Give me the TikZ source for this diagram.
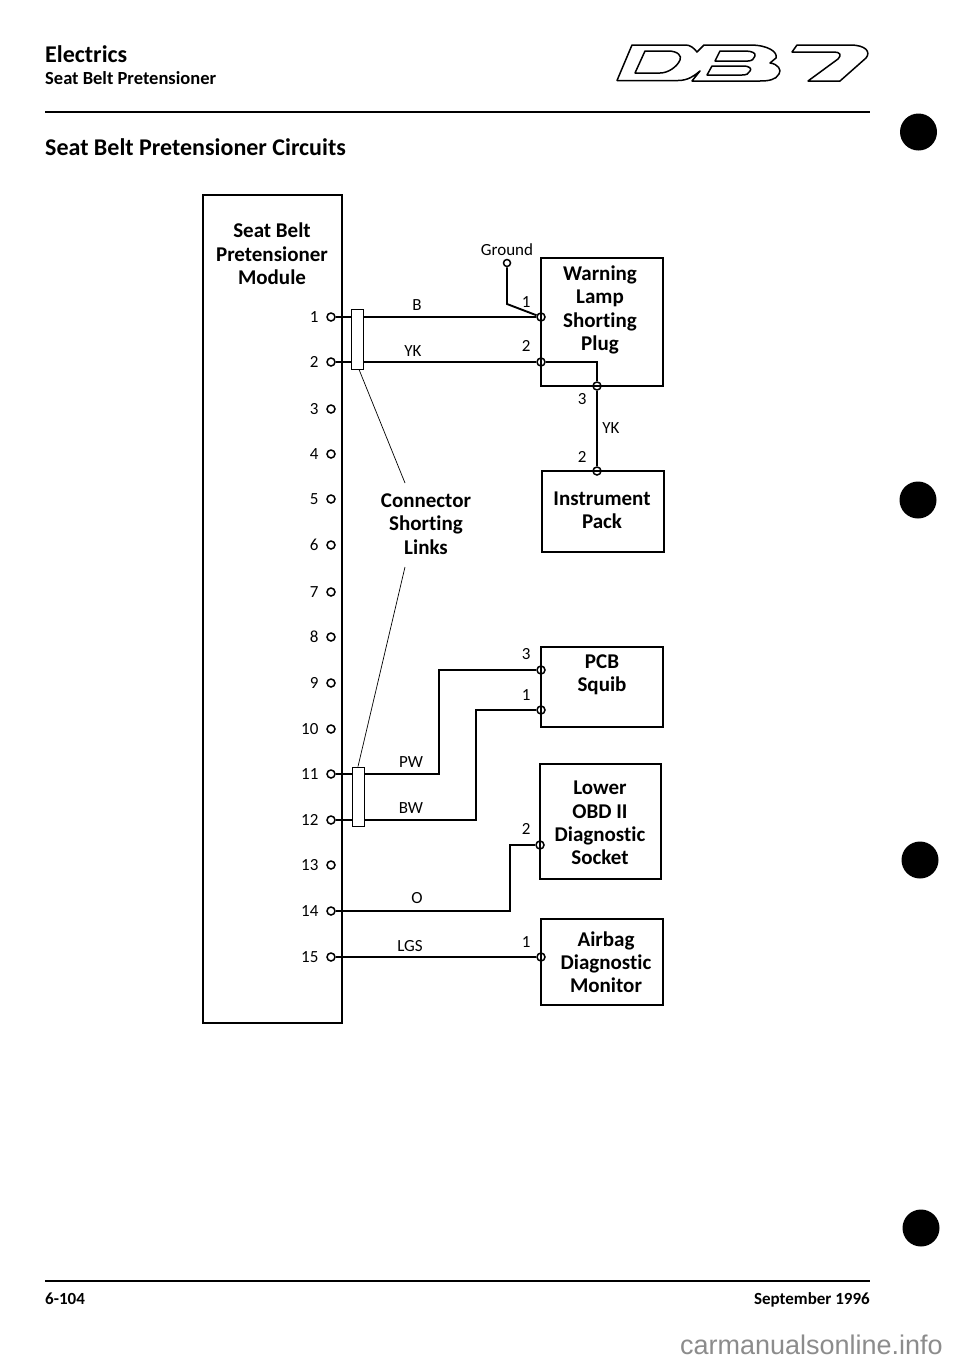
\documentclass[tikz,border=0pt]{standalone}
\usepackage{fontspec}
\setmainfont{Carlito}[Ligatures=NoCommon]
\newfontfamily\markFont{Liberation Sans}
\usetikzlibrary{positioning}
\tikzstyle{sheet} = [x = 1pt, y = -1pt]
\tikzstyle{boxStyle} = [draw, line width = 1.6pt, inner sep = 0pt]
\tikzstyle{wireStyle} = [line width = 1.9pt]
\tikzstyle{leaderStyle} = [line width = .7pt]
\tikzstyle{linkStyle} = [draw, fill=white, line width = .9pt, inner sep = 0pt]
\tikzstyle{pinStyle} = [circle, draw, fill=white, line width = 1.5pt, inner sep = 0pt, minimum size = 8pt]
\tikzstyle{plugStyle} = [circle, draw, line width = 1.5pt, inner sep = 0pt, minimum size = 8pt]
\tikzstyle{boxText} = [font=\fontsize{21}{23.3}\selectfont\bfseries, align=center]
\tikzstyle{wireText} = [font=\fontsize{17}{19}\selectfont]
\tikzstyle{pinText} = [font=\fontsize{17}{19}\selectfont, anchor=east]
\tikzstyle{pageText} = [font=\fontsize{17}{19}\selectfont\bfseries, inner sep=0pt]
\tikzstyle{ruleStyle} = [line width = 1.4pt]
\tikzstyle{logoStyle} = [line width = 1.5pt, line join = round]
\tikzstyle{blobStyle} = [circle, fill=black, inner sep = 0pt, minimum size = 37pt]
\newcommand{\plugPin}[2]{\node [plugStyle] (#1) at #2 {};}
\begin{document}
\begin{tikzpicture}[sheet]
  \useasboundingbox [fill=white] (0,0) rectangle (960,1363);
  % header
  \node [anchor=base west, font=\fontsize{24}{26}\selectfont\bfseries, inner sep=0pt] (chapter) at (45,62) {Electrics};
  \node [pageText, anchor=base west, font=\fontsize{18.5}{20}\selectfont\bfseries] (section) at (45,84) {Seat Belt Pretensioner};
  \node [anchor=base west, font=\fontsize{24}{26}\selectfont\bfseries, inner sep=0pt] (heading) at (45,155) {Seat Belt Pretensioner Circuits};
  \coordinate (ruleTopA) at (45,112);
  \coordinate (ruleTopB) at (870,112);
  \coordinate (ruleBotA) at (45,1281);
  \coordinate (ruleBotB) at (870,1281);
  \draw [ruleStyle] (ruleTopA) -- (ruleTopB);
  \draw [ruleStyle] (ruleBotA) -- (ruleBotB);
  \node [pageText, anchor=base west] (pageNo) at (45,1304) {6-104};
  \node [pageText, anchor=base east] (pageDate) at (870,1304) {September 1996};
  \node [anchor=base east, inner sep=0pt, text=black!45, font=\fontsize{27}{29}\selectfont\markFont] (siteMark) at (943,1354) {carmanualsonline.info};
  % logo
  \draw [logoStyle] (617,80.5) -- (632,45) -- (686,45) .. controls (690,45) and (694,48) .. (697,52) -- (704,45) -- (750,45) .. controls (768,45) and (778,52) .. (776,58) -- (770,63) .. controls (778,64) and (782,70) .. (779,74) .. controls (776,80) and (768,81) .. (760,81) -- (692,81) -- (700,71) .. controls (694,76) and (688,80.5) .. (678,80.5) -- cycle;
  \draw [logoStyle] (635,73) -- (645,51) -- (668,51) .. controls (678,51) and (682,56) .. (680,60) .. controls (677,67) and (668,73) .. (660,73) -- cycle;
  \draw [logoStyle] (715,61) -- (720,51) -- (745,51) .. controls (752,51) and (756,53) .. (755,56) .. controls (754,59) and (752,61) .. (748,61) -- cycle;
  \draw [logoStyle] (707,75) -- (712,66) -- (743,66) .. controls (750,66) and (752,69) .. (750,71) .. controls (749,74) and (746,75) .. (742,75) -- cycle;
  \draw [logoStyle] (792,52) -- (797,45) -- (850,45) .. controls (866,45) and (871,52) .. (866,58) -- (840,81) -- (808,81) -- (838,59) .. controls (842,55) and (840,52) .. (834,52) -- cycle;
  % punch holes
  \foreach \hole/\xpos/\ypos in {a/918.5/132,b/918/500,c/920/860,d/921/1228} {
    \node [blobStyle] (hole\hole) at (\xpos,\ypos) {};
  }
  % module
  \node [boxStyle, minimum width = 139pt, minimum height = 828pt] (module) at (272.5,609) {};
  \node [boxText] (moduleText) at (272,254) {Seat Belt\\Pretensioner\\Module};
  \foreach \pin/\ypos in {1/317,2/362,3/409,4/454,5/499,6/545,7/592,8/637,9/683,10/729,11/774,12/820,13/865,14/911,15/957} {
    \node [pinStyle] (pin\pin) at (331,\ypos) {};
    \node [pinText] (pinLabel\pin) at (322,\ypos) {\pin};
  }
  % boxes on the right
  \node [boxStyle, minimum width = 122pt, minimum height = 128pt] (lamp) at (602,322) {};
  \node [boxText] at (600,310) (lampText) {Warning\\Lamp\\Shorting\\Plug};
  \node [boxStyle, minimum width = 122pt, minimum height = 81pt] (pack) at (603,511.5) {};
  \node [boxText] at (602,510) (packText) {Instrument\\Pack};
  \node [boxStyle, minimum width = 122pt, minimum height = 80pt] (squib) at (602,687) {};
  \node [boxText] at (602,675) (squibText) {PCB\\Squib};
  \node [boxStyle, minimum width = 121pt, minimum height = 115pt] (socket) at (600.5,821.5) {};
  \node [boxText] at (600,823) (socketText) {Lower\\OBD II\\Diagnostic\\Socket};
  \node [boxStyle, minimum width = 122pt, minimum height = 86pt] (monitor) at (602,962) {};
  \node [boxText] at (606,962) (monitorText) {Airbag\\Diagnostic\\Monitor};
  % plug pins
  \plugPin{lampOne}{(541,317)}
  \plugPin{lampTwo}{(541,362)}
  \plugPin{lampThree}{(597,386)}
  \plugPin{packTwo}{(597,471)}
  \plugPin{squibThree}{(541,670)}
  \plugPin{squibOne}{(541,710)}
  \plugPin{socketTwo}{(540,845)}
  \plugPin{monitorOne}{(541,957)}
  \node [pinStyle, minimum size = 7pt] (ground) at (507,263) {};
  % wires
  \draw [wireStyle] (pin1) -- (lampOne);
  \draw [wireStyle] (pin2) -- (lampTwo);
  \draw [wireStyle] (ground) -- (507,304) -- (lampOne);
  \draw [line width = 1.2pt] (lampTwo) -| (lampThree);
  \draw [wireStyle] (lampThree) -- (packTwo);
  \draw [wireStyle] (pin11) -| (439,670) -- (squibThree);
  \draw [wireStyle] (pin12) -| (476,710) -- (squibOne);
  \draw [wireStyle] (pin14) -| (510,845) -- (socketTwo);
  \draw [wireStyle] (pin15) -- (monitorOne);
  % shorting links
  \node [linkStyle, minimum width = 12pt, minimum height = 60pt] (linkTop) at (357,339) {};
  \node [linkStyle, minimum width = 12pt, minimum height = 59pt] (linkBottom) at (358,796.5) {};
  \node [boxText] (linksText) at (426,524) {Connector\\Shorting\\Links};
  \coordinate (leaderTop) at (405,483);
  \coordinate (leaderBottom) at (405,567);
  \draw [leaderStyle] ([xshift=2pt]linkTop.south) -- (leaderTop);
  \draw [leaderStyle] (linkBottom.north) -- (leaderBottom);
  % labels
  \node [wireText] (wireB) at (417,305) {B};
  \node [wireText] (wireYK) at (413,351) {YK};
  \node [wireText] (wireYKb) at (611,428) {YK};
  \node [wireText] (wirePW) at (411,762) {PW};
  \node [wireText] (wireBW) at (411,808) {BW};
  \node [wireText] (wireO) at (417,898) {O};
  \node [wireText] (wireLGS) at (410,946) {LGS};
  \node [wireText] (groundText) at (507,250) {Ground};
  \node [pinText] (lampOneText) at (534,302) {1};
  \node [pinText] (lampTwoText) at (534,346) {2};
  \node [pinText] (lampThreeText) at (590,399) {3};
  \node [pinText] (packTwoText) at (590,457) {2};
  \node [pinText] (squibThreeText) at (534,654) {3};
  \node [pinText] (squibOneText) at (534,695) {1};
  \node [pinText] (socketTwoText) at (534,829) {2};
  \node [pinText] (monitorOneText) at (534,942) {1};
\end{tikzpicture}
\end{document}
